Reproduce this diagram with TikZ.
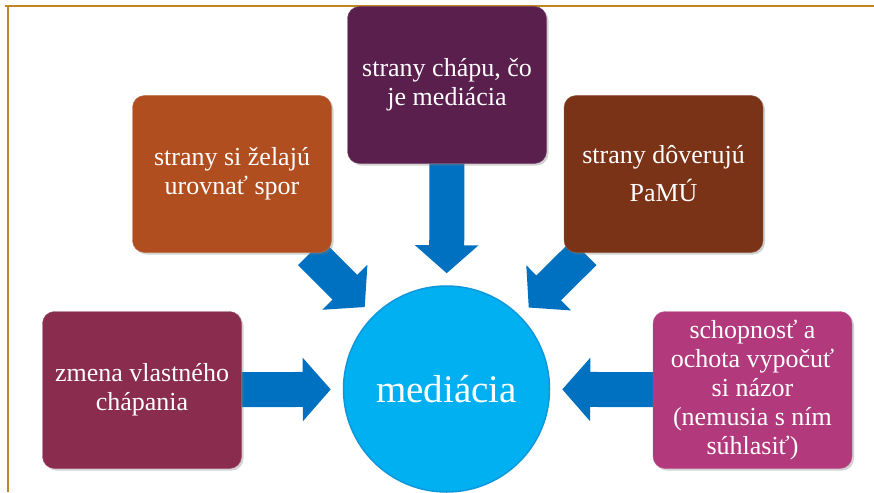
\documentclass[tikz,border=0pt]{standalone}
\usepackage{fontspec}
\setmainfont{Liberation Serif}
\usepackage{tikz}
\usetikzlibrary{arrows.meta,positioning,shapes,calc,backgrounds,shadows}
\usepackage{xcolor}

\definecolor{frameline}{RGB}{192,134,38}
\definecolor{arrblue}{RGB}{0,112,192}
\definecolor{medblue}{RGB}{0,176,240}
\definecolor{boxmaroon}{RGB}{137,44,77}
\definecolor{boxorange}{RGB}{176,78,32}
\definecolor{boxpurple}{RGB}{90,31,77}
\definecolor{boxbrown}{RGB}{122,51,22}
\definecolor{boxpink}{RGB}{178,58,124}

\begin{document}
\begin{tikzpicture}[x=1pt,y=-1pt,
    box/.style={rounded corners=12pt,minimum width=199pt,minimum height=157pt,
      align=center,text=white,font=\fontsize{26}{29}\selectfont,
      drop shadow={opacity=0.35,shadow xshift=2pt,shadow yshift=-2pt}},
    arr/.style={draw=arrblue,line width=35pt,shorten >=12pt,
      -{Triangle[length=28pt,width=62pt]}},
    frame/.style={draw=frameline,line width=2pt}]
    \useasboundingbox (0,0) rectangle (874,492);

    % nodes
    \node[circle,fill=medblue,draw=cyan!40!medblue,line width=1.5pt,minimum size=206pt,
      text=white,font=\fontsize{39}{44}\selectfont] (med) at (446.5,389) {mediácia};
    \node[box,fill=boxmaroon,draw=boxmaroon!80!white] (chap) at (142,390) {zmena vlastného\\chápania};
    \node[box,fill=boxorange,draw=boxorange!80!white] (zel) at (232,174) {strany si želajú\\urovnať spor};
    \node[box,fill=boxpurple,draw=boxpurple!80!white] (poz) at (447,85) {strany chápu, čo\\je mediácia};
    \node[box,fill=boxbrown,draw=boxbrown!80!white,font=\fontsize{26}{38}\selectfont] (dov) at (663.5,174) {strany dôverujú\\PaMÚ};
    \node[box,fill=boxpink,draw=boxpink!80!white] (naz) at (752.5,390) {schopnosť a\\ochota vypočuť\\si názor\\(nemusia s ním\\súhlasiť)};

    \begin{scope}[on background layer]
      \fill[white] (0,0) rectangle (874,492);
      \draw[frame] (5,6) -- (874,6);
      \draw[frame] (8,6) -- (8,492);
      \draw[arr] (chap) -- (med);
      \draw[arr] (zel) -- (med);
      \draw[arr] (poz) -- (med);
      \draw[arr] (dov) -- (med);
      \draw[arr] (naz) -- (med);
    \end{scope}
  \end{tikzpicture}
\end{document}
